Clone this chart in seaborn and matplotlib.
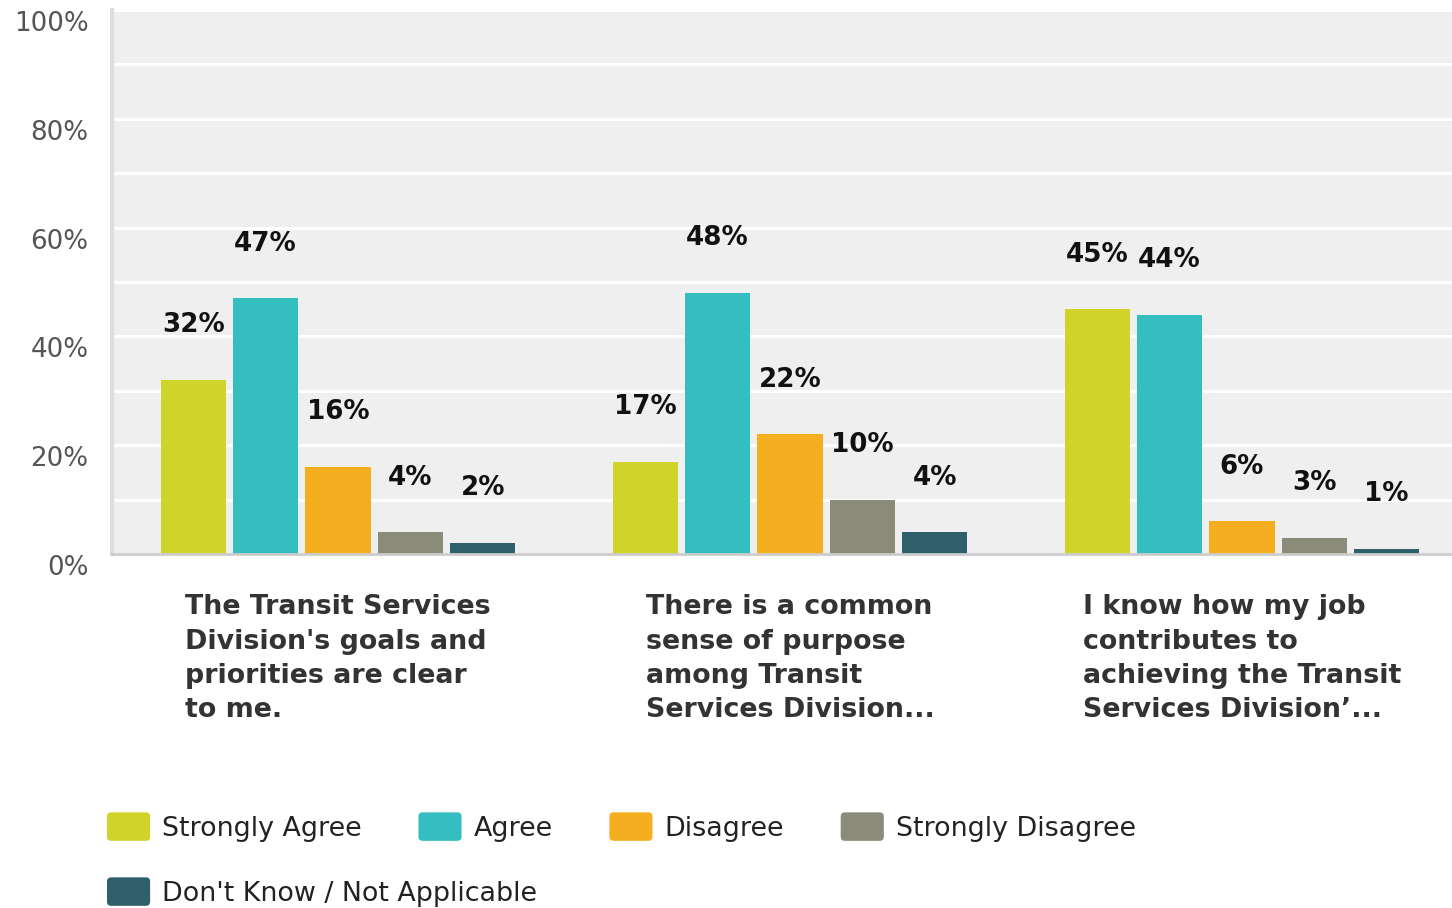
import matplotlib
matplotlib.use("Agg")
import matplotlib.pyplot as plt
import matplotlib.transforms as mtransforms
from matplotlib.patches import Patch, FancyBboxPatch
from matplotlib.legend_handler import HandlerPatch
import pandas as pd
import seaborn as sns

# Survey statements (wrapped for the axis) and response shares in percent
statements = [
    "The Transit Services\nDivision's goals and\npriorities are clear\nto me.",
    "There is a common\nsense of purpose\namong Transit\nServices Division...",
    "I know how my job\ncontributes to\nachieving the Transit\nServices Division\u2019...",
]
responses = ["Strongly Agree", "Agree", "Disagree", "Strongly Disagree",
             "Don't Know / Not Applicable"]
strongly_agree = [32, 17, 45]
agree = [47, 48, 44]
disagree = [16, 22, 6]
strongly_disagree = [4, 10, 3]
dont_know = [2, 4, 1]

colors = ["#D0D42A", "#34BEBF", "#F5AE20", "#8B8B79", "#2F5F6B"]
y_ticks = [0, 20, 40, 60, 80, 100]

series = [strongly_agree, agree, disagree, strongly_disagree, dont_know]
df = pd.DataFrame(
    [(s, r, v[i]) for r, v in zip(responses, series) for i, s in enumerate(statements)],
    columns=["statement", "response", "pct"],
)

sns.set_style("white")
plt.rcParams["font.family"] = ["DejaVu Sans"]

W, H = 1452, 908
fig = plt.figure(figsize=(W / 100, H / 100), dpi=100)
ax = fig.add_axes([112 / W, 1 - 554 / H, 1356 / W, 544 / H])
ax.set_facecolor("#EFEFEF")

sns.barplot(data=df, x="statement", y="pct", hue="response", order=statements,
            hue_order=responses, palette=colors, width=0.8, gap=0.1,
            errorbar=None, saturation=1, linewidth=0, ax=ax, legend=False)

for cont in ax.containers:
    ax.bar_label(cont, fmt="{:.0f}%", padding=30, fontsize=18.8,
                 fontweight="bold", color="#111111")

ax.set_xlim(-0.5, 2.5)
ax.set_ylim(0, 100)
ax.set_yticks(y_ticks)
ax.set_yticklabels([f"{t}%" for t in y_ticks])
ax.set_yticks(range(10, 100, 20), minor=True)
ax.grid(True, axis="y", which="both", color="white", linewidth=2.2)
ax.set_axisbelow(True)
ax.set_xlabel("")
ax.set_ylabel("")

ax.tick_params(axis="y", which="both", length=0, pad=17, labelsize=18.8,
               labelcolor="#555555")
ax.tick_params(axis="x", length=0, pad=29, labelsize=19.4, labelcolor="#333333")
for lab in ax.get_xticklabels():
    lab.set_fontweight("bold")
    lab.set_multialignment("left")
    lab.set_linespacing(1.42)

# numbers sit a little below their gridlines
shift = mtransforms.ScaledTranslation(0, -11 / 100, fig.dpi_scale_trans)
for lab in ax.get_yticklabels():
    lab.set_transform(lab.get_transform() + shift)

for side in ["top", "right"]:
    ax.spines[side].set_visible(False)
ax.spines["left"].set_color("#DDDDDD")
ax.spines["left"].set_linewidth(3)
ax.spines["bottom"].set_color("#CCCCCC")
ax.spines["bottom"].set_linewidth(2)


class RoundedHandler(HandlerPatch):
    def create_artists(self, legend, orig_handle, xdescent, ydescent, width,
                       height, fontsize, trans):
        r = 3
        p = FancyBboxPatch((-xdescent + r, -ydescent + r), width - 2 * r,
                           height - 2 * r, boxstyle=f"round,pad={r}",
                           facecolor=orig_handle.get_facecolor(),
                           edgecolor="none", transform=trans)
        return [p]


handles = [Patch(facecolor=c, label=r) for c, r in zip(colors, responses)]
leg_kw = dict(frameon=False, fontsize=19.4, handlelength=1.6,
              handleheight=1.25, handletextpad=0.45, columnspacing=2.1,
              borderpad=0, borderaxespad=0, loc="center left",
              handler_map={Patch: RoundedHandler()})
leg1 = fig.legend(handles=handles[:4], ncol=4,
                  bbox_to_anchor=(107 / W, 1 - 827 / H), **leg_kw)
leg2 = fig.legend(handles=handles[4:], ncol=1,
                  bbox_to_anchor=(107 / W, 1 - 892 / H), **leg_kw)
for leg in (leg1, leg2):
    for t in leg.get_texts():
        t.set_color("#222222")

fig.savefig("out.png", dpi=100, facecolor="white")
